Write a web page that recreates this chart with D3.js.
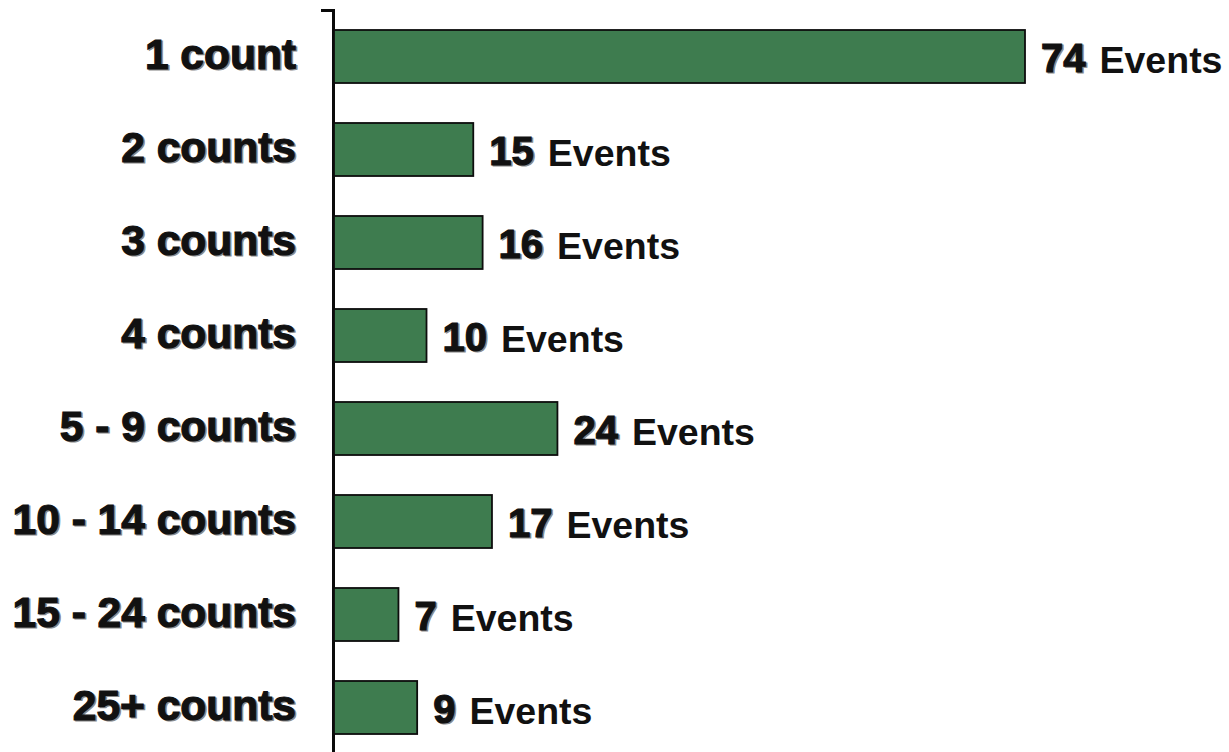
<!DOCTYPE html>
<html>
<head>
<meta charset="utf-8">
<script src="https://cdn.jsdelivr.net/npm/d3@7"></script>
<style>
  html, body { margin: 0; padding: 0; background: #ffffff; }
  svg { display: block; }
  text { font-family: "Liberation Sans", Arial, sans-serif; font-weight: bold; }
</style>
</head>
<body>
<svg id="chart" width="1229" height="752"></svg>
<script>
// Events grouped by number of counts
const categories = ["1 count", "2 counts", "3 counts", "4 counts", "5 - 9 counts", "10 - 14 counts", "15 - 24 counts", "25+ counts"];
const events = [74, 15, 16, 10, 24, 17, 7, 9];
const unitLabel = "Events";

const svg = d3.select("#chart");
const axisX = 333;

const y = d3.scaleBand()
  .domain(categories)
  .range([10, 754])
  .paddingInner(0.43)
  .paddingOuter(0.215);

const x = d3.scaleLinear()
  .domain([0, 74])
  .range([axisX, 1025]);

const rows = categories.map((c, i) => ({ cat: c, value: events[i] }));

// vertical axis with a single outer tick at the top
const axis = svg.append("g")
  .attr("transform", `translate(${axisX},0)`)
  .call(d3.axisLeft(y).tickSize(0).tickSizeOuter(12).tickFormat(""));
axis.select(".domain").attr("stroke", "#0a0a0a").attr("stroke-width", 3);

// bars
svg.append("g").selectAll("rect")
  .data(rows)
  .join("rect")
  .attr("x", x(0) + 1)
  .attr("y", d => y(d.cat))
  .attr("width", d => x(d.value) - x(0) - 1)
  .attr("height", y.bandwidth())
  .attr("fill", "#3e7c4f")
  .attr("stroke", "#0d0d0d")
  .attr("stroke-width", 1.8);

// heavy text with a soft grey offset shadow
function heavyText(g, str, tx, ty, size, anchor) {
  g.append("text")
    .attr("x", tx + 1.5).attr("y", ty + 1.5)
    .attr("text-anchor", anchor)
    .attr("font-size", size)
    .attr("fill", "#8a8a8a")
    .attr("stroke", "#8a8a8a").attr("stroke-width", 1.2)
    .text(str);
  return g.append("text")
    .attr("x", tx).attr("y", ty)
    .attr("text-anchor", anchor)
    .attr("font-size", size)
    .attr("fill", "#111")
    .attr("stroke", "#111").attr("stroke-width", 1.2)
    .text(str);
}

// category labels
const catG = svg.append("g");
rows.forEach(d => {
  const cy = y(d.cat) + y.bandwidth() / 2;
  heavyText(catG, d.cat, 296, cy + 12, 42.5, "end");
});

// value labels
const valG = svg.append("g");
rows.forEach(d => {
  const cy = y(d.cat) + y.bandwidth() / 2;
  const nx = x(d.value) + 16;
  const num = heavyText(valG, String(d.value), nx, cy + 15, 40, "start");
  const w = num.node().getComputedTextLength();
  valG.append("text")
    .attr("x", nx + w + 14)
    .attr("y", cy + 16)
    .attr("font-size", 37.5)
    .attr("fill", "#111")
    .text(unitLabel);
});
</script>
</body>
</html>
